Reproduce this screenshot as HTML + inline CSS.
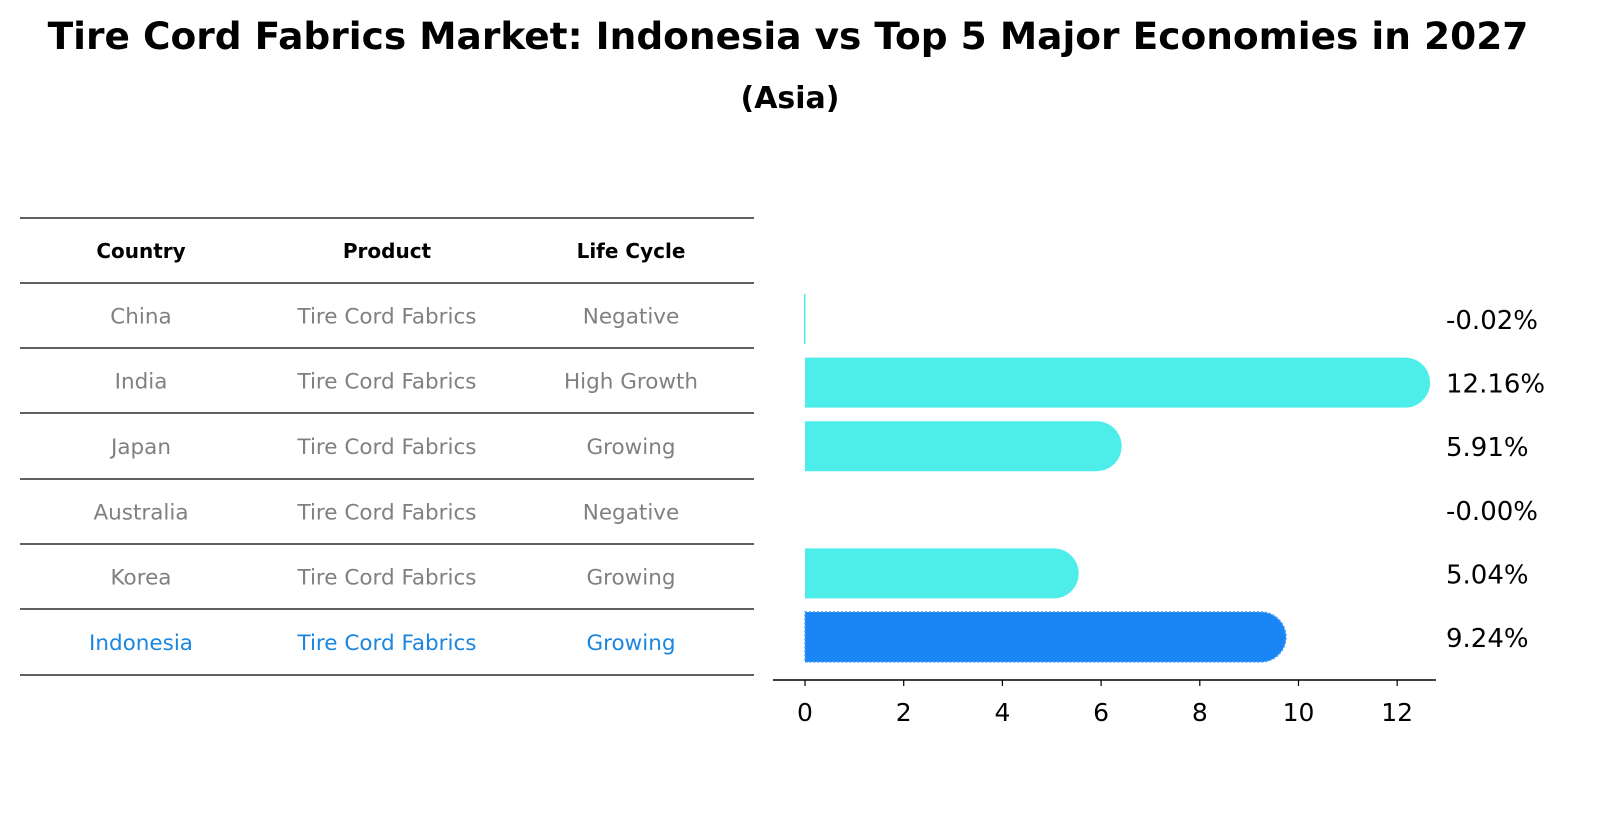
<!DOCTYPE html>
<html><head><meta charset="utf-8"><style>
body{margin:0;background:#fff;font-family:"Liberation Sans","DejaVu Sans",sans-serif;}
svg text{font-family:"DejaVu Sans","Liberation Sans",sans-serif;}
</style></head><body>
<svg width="1604" height="823" xmlns="http://www.w3.org/2000/svg">
<text x="788" y="49" text-anchor="middle" font-size="37.5" font-weight="bold">Tire Cord Fabrics Market: Indonesia vs Top 5 Major Economies in 2027</text>
<text x="790" y="108" text-anchor="middle" font-size="30" font-weight="bold">(Asia)</text>
<g id="table"></g>
<g id="bars"></g>
<g id="axis"></g>
</svg>
<script>
const countries=["China","India","Japan","Australia","Korea","Indonesia"];
const products=["Tire Cord Fabrics","Tire Cord Fabrics","Tire Cord Fabrics","Tire Cord Fabrics","Tire Cord Fabrics","Tire Cord Fabrics"];
const lifeCycles=["Negative","High Growth","Growing","Negative","Growing","Growing"];
const growth=[-0.02,12.16,5.91,-0.00,5.04,9.24];
const labels=["-0.02%","12.16%","5.91%","-0.00%","5.04%","9.24%"];
const xTicks=[0,2,4,6,8,10,12];
const NS="http://www.w3.org/2000/svg";
function mk(tag,attrs,parent){const e=document.createElementNS(NS,tag);for(const k in attrs)e.setAttribute(k,attrs[k]);parent.appendChild(e);return e;}
const tbl=document.getElementById('table');
const lineYs=[218,283,348,413,479,544,609,675];
lineYs.forEach((y,i)=>{const l=mk('line',{x1:20,x2:754,y1:y,y2:y,stroke:'#000','stroke-width':1.2},tbl);

});
const colX=[141,387,631];
["Country","Product","Life Cycle"].forEach((h,i)=>{const t=mk('text',{x:colX[i],y:258,'text-anchor':'middle','font-size':20,'font-weight':'bold'},tbl);t.textContent=h;

});
countries.forEach((c,r)=>{const y=(lineYs[r+1]+lineYs[r+2])/2+8;const col=c==="Indonesia"?"#1a86e0":"#808080";
[c,products[r],lifeCycles[r]].forEach((v,i)=>{const t=mk('text',{x:colX[i],y:y,'text-anchor':'middle','font-size':21.5,fill:col},tbl);t.textContent=v;

});});
const x0=805,pxPer=49.35;const xs=v=>x0+v*pxPer;
const barY=i=>319+i*63.6;const bh=50;
const bg=document.getElementById('bars');
growth.forEach((v,i)=>{const isI=countries[i]==="Indonesia";const col=isI?"#1a86f5":"#4deeea";const y=barY(i);
const w=Math.max(0,xs(v)-x0);
if(w>0){const r=bh/2;const p=mk('path',{d:`M${x0},${y-r}H${x0+w}A${r},${r} 0 0 1 ${x0+w},${y+r}H${x0}Z`,fill:col},bg);


if(isI){p.setAttribute('stroke','#4a9ff0');p.setAttribute('stroke-dasharray','2,2');p.setAttribute('stroke-width','1.5');}}
else if(v<0){const p=mk('rect',{x:x0-1,y:y-bh/2,width:1.5,height:bh,fill:col},bg);

}
const t=mk('text',{x:1446,y:y+10,'font-size':26},bg);t.textContent=labels[i];

});
const ax=document.getElementById('axis');
const al=mk('line',{x1:773,x2:1436,y1:680,y2:680,stroke:'#000','stroke-width':1.5},ax);


xTicks.forEach(v=>{const tk=mk('line',{x1:xs(v),x2:xs(v),y1:680,y2:686,stroke:'#000','stroke-width':1.2},ax);


const t=mk('text',{x:xs(v),y:721,'text-anchor':'middle','font-size':25},ax);t.textContent=v;

});
</script>
</body></html>
